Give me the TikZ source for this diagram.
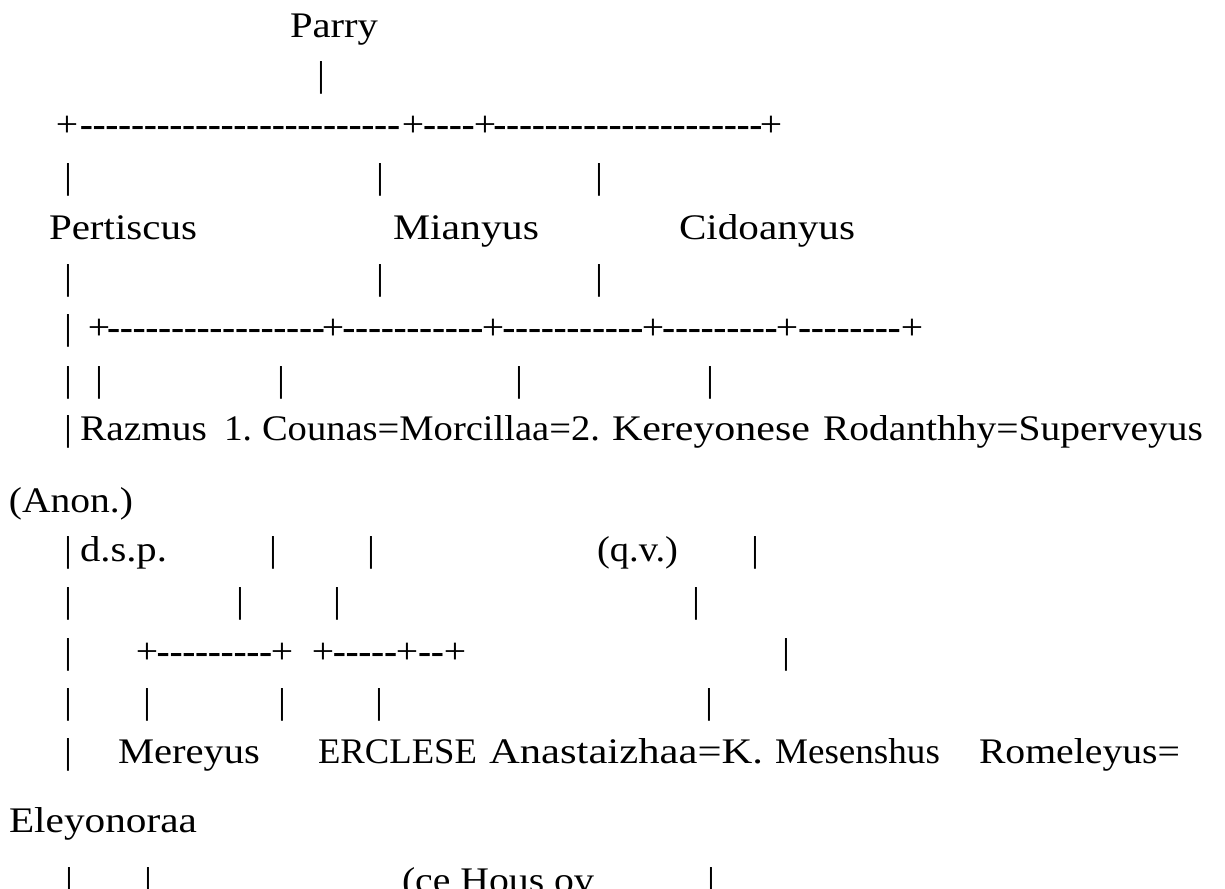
\documentclass[tikz,border=0pt]{standalone}
\usepackage{fontspec}
\usepackage{graphicx}
\setmainfont{Liberation Serif}[FakeStretch=1.1]
\newsavebox\fitbox
\newcommand\fitw[2]{\sbox\fitbox{#2}\scalebox{\fpeval{#1/(\the\wd\fitbox)}}[1]{\usebox\fitbox}}
\newcommand\mydashes[1]{\hbox to #1pt{\cleaders\hbox to 12.8pt{\hss\bfseries-\hss}\hfill}}
\tikzset{
  txt/.style={anchor=base west, inner sep=0pt, outer sep=0pt, font=\fontsize{36}{40}\selectfont},
  mid/.style={anchor=base, inner sep=0pt, outer sep=0pt, font=\fontsize{36}{40}\selectfont},
}
\begin{document}
\begin{tikzpicture}[x=1pt,y=-1pt]
\useasboundingbox (0,0) rectangle (1225,888);
\clip (0,0) rectangle (1225,888);
% line 1-2
\node[txt] (parry) at (290,38) {\fitw{88}{Parry}};
\node[mid] (b2a) at (321,87) {|};
% line 3
\node[mid] (p3a) at (67,136) {+};
\node[mid] (d3a) at (240,136) {\mydashes{330}};
\node[mid] (p3b) at (413,136) {+};
\node[mid] (d3b) at (449,136) {\mydashes{56}};
\node[mid] (p3c) at (485,136) {+};
\node[mid] (d3c) at (628,136) {\mydashes{270}};
\node[mid] (p3d) at (771,136) {+};
% line 4
\node[mid] (b4a) at (68,188) {|};
\node[mid] (b4b) at (380,188) {|};
\node[mid] (b4c) at (599,188) {|};
% line 5
\node[txt] (pert) at (49,239) {\fitw{148}{Pertiscus}};
\node[txt] (mian) at (393,239) {\fitw{146}{Mianyus}};
\node[txt] (cido) at (679,239) {\fitw{176}{Cidoanyus}};
% line 6
\node[mid] (b6a) at (68,289) {|};
\node[mid] (b6b) at (380,289) {|};
\node[mid] (b6c) at (599,289) {|};
% line 7
\node[mid] (b7a) at (68,339) {|};
\node[mid] (p7a) at (99,339) {+};
\node[mid] (d7a) at (216,339) {\mydashes{218}};
\node[mid] (p7b) at (333,339) {+};
\node[mid] (d7b) at (413,339) {\mydashes{144}};
\node[mid] (p7c) at (493,339) {+};
\node[mid] (d7c) at (573,339) {\mydashes{144}};
\node[mid] (p7d) at (653,339) {+};
\node[mid] (d7d) at (720,339) {\mydashes{118}};
\node[mid] (p7e) at (787,339) {+};
\node[mid] (d7e) at (849.5,339) {\mydashes{109}};
\node[mid] (p7f) at (912,339) {+};
% line 8
\node[mid] (b8a) at (68,391) {|};
\node[mid] (b8b) at (99,391) {|};
\node[mid] (b8c) at (281,391) {|};
\node[mid] (b8d) at (519,391) {|};
\node[mid] (b8e) at (710,391) {|};
% line 9
\node[mid] (b9a) at (68,440) {|};
\node[txt] (razm) at (80,440) {\fitw{127}{Razmus}};
\node[txt] (one) at (224,440) {\fitw{28}{1.}};
\node[txt] (coun) at (262,440) {\fitw{338}{Counas=Morcillaa=2.}};
\node[txt] (kere) at (612,440) {\fitw{198}{Kereyonese}};
\node[txt] (roda) at (823,440) {\fitw{380}{Rodanthhy=Superveyus}};
% line 10
\node[txt] (anon) at (9,512) {\fitw{124}{(Anon.)}};
% line 11
\node[mid] (b11a) at (68,561) {|};
\node[txt] (dsp) at (80,561) {\fitw{87}{d.s.p.}};
\node[mid] (b11b) at (273,561) {|};
\node[mid] (b11c) at (371,561) {|};
\node[txt] (qv) at (597,561) {\fitw{81}{(q.v.)}};
\node[mid] (b11d) at (755,561) {|};
% line 12
\node[mid] (b12a) at (68,612) {|};
\node[mid] (b12b) at (240,612) {|};
\node[mid] (b12c) at (337,612) {|};
\node[mid] (b12d) at (696,612) {|};
% line 13
\node[mid] (b13a) at (68,663) {|};
\node[mid] (p13a) at (147,663) {+};
\node[mid] (d13a) at (214.5,663) {\mydashes{119}};
\node[mid] (p13b) at (282,663) {+};
\node[mid] (p13c) at (323,663) {+};
\node[mid] (d13c) at (365,663) {\mydashes{68}};
\node[mid] (p13d) at (407,663) {+};
\node[mid] (d13d) at (431,663) {\mydashes{30}};
\node[mid] (p13e) at (455,663) {+};
\node[mid] (b13b) at (786,663) {|};
% line 14
\node[mid] (b14a) at (68,713) {|};
\node[mid] (b14b) at (147,713) {|};
\node[mid] (b14c) at (282,713) {|};
\node[mid] (b14d) at (379,713) {|};
\node[mid] (b14e) at (709,713) {|};
% line 15
\node[mid] (b15a) at (68,763) {|};
\node[txt] (mere) at (118,763) {\fitw{142}{Mereyus}};
\node[txt] (ercl) at (318,763) {\fitw{159}{ERCLESE}};
\node[txt] (anas) at (489,763) {\fitw{274}{Anastaizhaa=K.}};
\node[txt] (mese) at (775,763) {\fitw{165}{Mesenshus}};
\node[txt] (rome) at (979,763) {\fitw{201}{Romeleyus=}};
% line 16
\node[txt] (eley) at (9,832) {\fitw{188}{Eleyonoraa}};
% line 17
\node[mid] (b17a) at (69,892) {|};
\node[mid] (b17b) at (148,892) {|};
\node[txt] (hous) at (402,892) {\fitw{192}{(ce Hous ov}};
\node[mid] (b17c) at (711,892) {|};
\end{tikzpicture}
\end{document}
